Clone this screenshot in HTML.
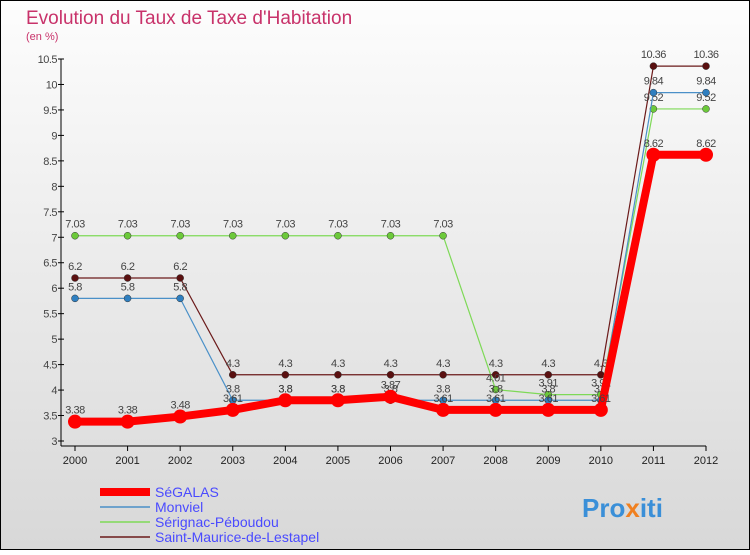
<!DOCTYPE html>
<html><head><meta charset="utf-8"><style>
body{margin:0;background:#fff;font-family:"Liberation Sans",sans-serif}
#c{position:relative;width:750px;height:550px}
</style></head><body>
<div id="c">
<svg id="s" width="750" height="550" xmlns="http://www.w3.org/2000/svg">
<defs><linearGradient id="bg" x1="0" y1="0" x2="0" y2="1"><stop offset="0" stop-color="#fdfdfd"/><stop offset="1" stop-color="#d8d8d8"/></linearGradient></defs>
<rect x="0.5" y="0.5" width="749" height="549" fill="url(#bg)" stroke="#000"/>
<text x="26" y="24" font-size="19" fill="#c8326a">Evolution du Taux de Taxe d'Habitation</text>
<text x="26" y="40" font-size="11" fill="#c8326a">(en %)</text>
<g id="axes"></g><g id="series"></g><g id="legend"></g>
<text x="582" y="517" font-size="26" font-weight="bold" fill="#3a8fd8">Pro<tspan fill="#f08020">x</tspan>iti</text>
</svg></div>
<script>
const years=[2000,2001,2002,2003,2004,2005,2006,2007,2008,2009,2010,2011,2012];
const yTicks=[3,3.5,4,4.5,5,5.5,6,6.5,7,7.5,8,8.5,9,9.5,10,10.5];
const segalas=[3.38,3.38,3.48,3.61,3.8,3.8,3.87,3.61,3.61,3.61,3.61,8.62,8.62];
const monviel=[5.8,5.8,5.8,3.8,3.8,3.8,3.8,3.8,3.8,3.8,3.8,9.84,9.84];
const serignac=[7.03,7.03,7.03,7.03,7.03,7.03,7.03,7.03,4.01,3.91,3.91,9.52,9.52];
const stmaurice=[6.2,6.2,6.2,4.3,4.3,4.3,4.3,4.3,4.3,4.3,4.3,10.36,10.36];
const names=["SéGALAS","Monviel","Sérignac-Péboudou","Saint-Maurice-de-Lestapel"];
const NS="http://www.w3.org/2000/svg";
const x=i=>75+i*(706-75)/12;
const y=v=>441-(v-3)*(441-59)/7.5;
function mk(p,t,a){const e=document.createElementNS(NS,t);for(const k in a)e.setAttribute(k,a[k]);p.appendChild(e);return e;}
const ax=document.getElementById('axes');
let e=mk(ax,'line',{x1:61,y1:59,x2:61,y2:446,stroke:'#000'});


e=mk(ax,'line',{x1:61,y1:446,x2:706,y2:446,stroke:'#000'});


yTicks.forEach(v=>{
 mk(ax,'line',{x1:58,x2:64,y1:y(v),y2:y(v),stroke:'#000'});
 const t=mk(ax,'text',{x:57,y:y(v)+4,'font-size':11,'text-anchor':'end',fill:'#444','letter-spacing':'-0.5'});
 t.textContent=v;
 
 
});
years.forEach((yr,i)=>{
 mk(ax,'line',{x1:x(i),x2:x(i),y1:446,y2:451,stroke:'#000'});
 const t=mk(ax,'text',{x:x(i),y:464,'font-size':11,'text-anchor':'middle',fill:'#222'});
 t.textContent=yr;
 
 
});
const sg=document.getElementById('series');
const defs=[[stmaurice,'#6b1a1a','#5a1010',1.2,3.5,'saint-maurice'],[serignac,'#7ed957','#6cc93a',1.2,3.5,'serignac'],[monviel,'#4a90c8','#2f7fc0',1.2,3.5,'monviel'],[segalas,'#ff0000','#ff0000',8,7,'segalas']];
defs.forEach(([d,c,pc,w,r,n])=>{
 const l=mk(sg,'polyline',{points:d.map((v,i)=>x(i)+','+y(v)).join(' '),fill:'none',stroke:c,'stroke-width':w,'stroke-linejoin':'round'});
 
 
 d.forEach((v,i)=>{
  const p=mk(sg,'circle',{cx:x(i),cy:y(v),r:r,fill:pc,stroke:n=='segalas'?'none':'#333','stroke-width':0.5});
  
  
  const t=mk(sg,'text',{x:x(i),y:y(v)-8,'font-size':11,'text-anchor':'middle',fill:'#444','letter-spacing':'-0.5'});
  t.textContent=v;
  
  
 });
});
const lg=document.getElementById('legend');
[['#ff0000',8],['#4a90c8',1.5],['#7ed957',1.5],['#6b1a1a',1.5]].forEach(([c,w],i)=>{
 const yy=492+i*15;
 mk(lg,'line',{x1:100,x2:150,y1:yy,y2:yy,stroke:c,'stroke-width':w});
 const t=mk(lg,'text',{x:155,y:yy+5,'font-size':14,fill:'#4a4aff'});
 t.textContent=names[i];
 
 
});
</script>
</body></html>
